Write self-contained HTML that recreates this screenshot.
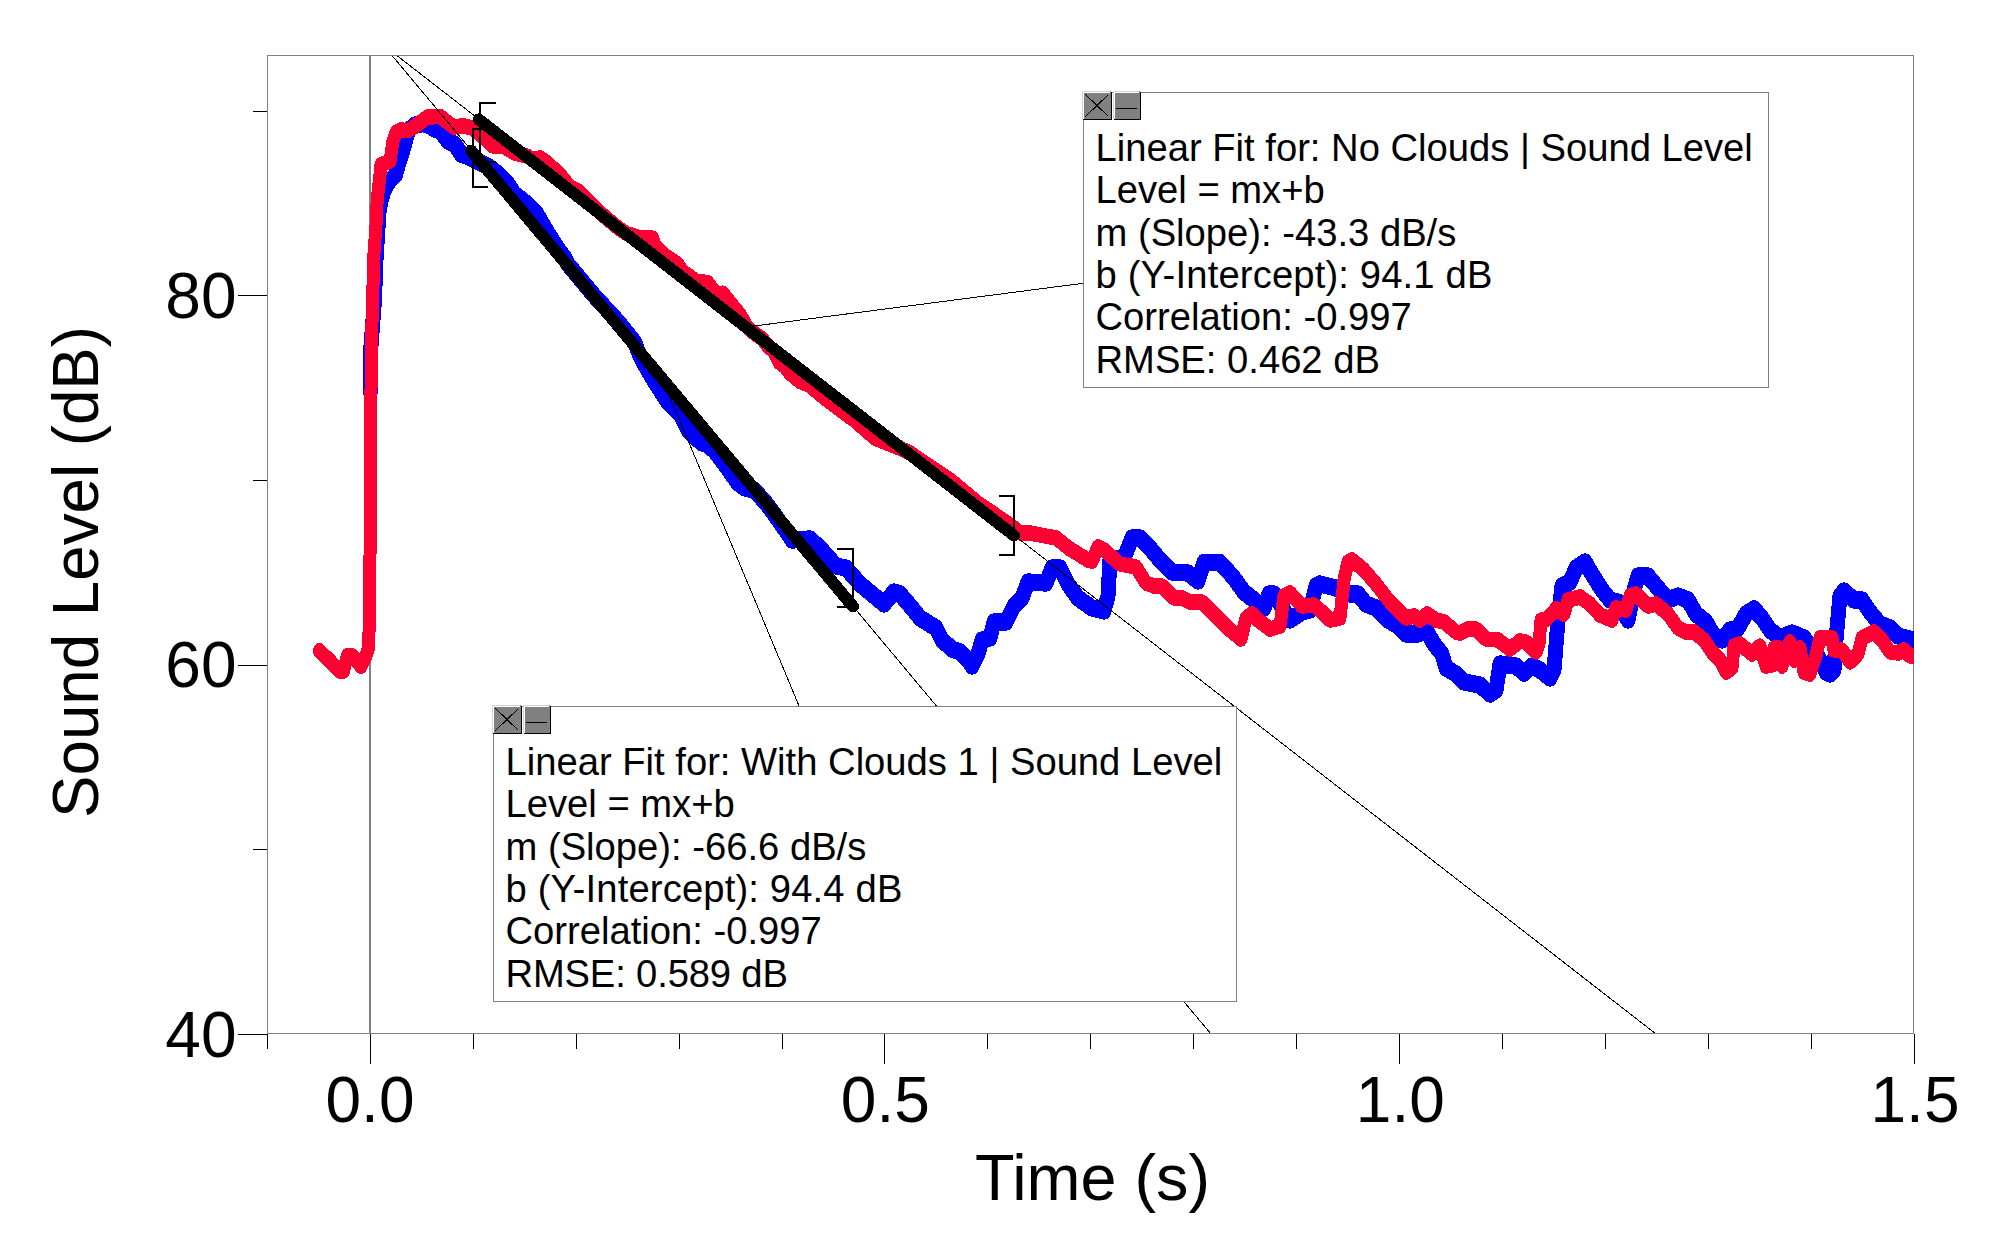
<!DOCTYPE html>
<html lang="en"><head><meta charset="utf-8"><title>Sound Level vs Time</title>
<style>html,body{margin:0;padding:0;background:#fff}body{width:2000px;height:1249px;overflow:hidden}</style></head>
<body>
<svg width="2000" height="1249" viewBox="0 0 2000 1249" style="display:block">
<rect width="2000" height="1249" fill="#fff"/>
<defs><clipPath id="plot"><rect x="268" y="56" width="1646" height="977"/></clipPath></defs>
<g shape-rendering="crispEdges">
<rect x="267.5" y="55.5" width="1646" height="978" fill="none" stroke="#808080" stroke-width="1"/>
<rect x="369" y="56" width="2" height="977" fill="#808080"/>
<g clip-path="url(#plot)" fill="none" stroke-linejoin="round" stroke-linecap="round">
<polyline transform="scale(1,1.15333)" points="370.5,339.45 370.5,305.20 374.5,260.12 376.0,225.43 379.0,183.82 381.0,174.28 384.0,164.74 389.5,156.94 395.5,151.73 399.0,140.46 403.0,130.06 406.5,118.79 409.0,112.72 415.0,108.38 422.5,107.30 427.5,107.86 433.8,111.63 440.0,113.24 447.5,121.91 455.0,125.20 461.2,133.87 468.8,136.04 476.6,139.60 488.0,144.28 498.0,150.78 508.0,159.45 514.2,168.12 525.5,175.66 536.7,185.46 545.5,198.47 558.0,215.81 565.5,224.48 567.7,228.90 596.2,258.38 618.4,279.19 634.5,296.53 640.4,309.54 647.7,320.81 654.3,330.35 666.3,346.82 680.1,358.96 688.6,373.70 701.1,383.67 707.5,385.40 714.6,391.04 725.3,403.18 737.5,418.35 744.9,423.12 754.0,424.86 765.6,435.69 774.8,446.53 787.4,462.14 792.0,468.21 810.0,467.34 820.0,475.14 836.0,490.75 846.0,492.49 860.0,506.36 872.0,515.03 884.0,523.70 894.0,513.29 900.0,515.03 912.0,527.17 920.0,535.84 936.0,544.51 942.0,554.91 952.0,562.72 960.0,565.32 968.0,572.25 972.0,577.46 978.0,567.05 982.0,554.91 990.0,553.18 994.0,539.31 1006.0,539.31 1014.0,525.43 1022.0,518.50 1028.0,504.62 1046.0,505.49 1052.0,492.49 1060.0,492.49 1068.0,506.36 1078.0,518.50 1092.0,527.17 1104.0,529.77 1108.0,516.76 1110.0,485.55 1124.0,483.82 1132.0,466.47 1140.0,466.47 1150.0,475.14 1160.0,485.55 1172.0,495.95 1188.0,496.82 1198.0,503.76 1204.0,487.72 1220.0,487.72 1234.0,501.16 1244.0,513.29 1254.0,520.23 1264.0,527.17 1269.0,515.03 1274.0,515.03 1290.0,537.57 1302.0,530.64 1310.0,528.90 1316.0,508.09 1320.0,506.36 1336.0,509.83 1350.0,515.03 1358.0,515.03 1366.0,523.70 1376.0,527.17 1388.0,537.57 1398.0,542.77 1406.0,549.71 1418.0,549.71 1426.0,546.24 1434.0,558.38 1442.0,567.05 1446.0,579.19 1456.0,584.39 1464.0,591.33 1480.0,593.93 1490.0,601.73 1496.0,598.27 1500.0,575.72 1508.0,576.59 1516.0,577.46 1524.0,583.53 1532.0,577.46 1540.0,580.92 1550.0,587.86 1554.0,580.92 1558.0,537.57 1562.0,508.09 1570.0,504.62 1576.0,492.49 1585.0,487.28 1592.0,497.69 1602.0,511.56 1610.0,520.23 1618.0,521.97 1628.0,537.57 1634.0,511.56 1638.0,499.42 1648.0,499.42 1658.0,509.83 1668.0,520.23 1678.0,516.76 1688.0,520.23 1696.0,532.37 1706.0,539.31 1714.0,551.45 1722.0,554.91 1730.0,546.24 1738.0,544.51 1746.0,532.37 1754.0,528.03 1762.0,535.84 1770.0,546.24 1780.0,553.18 1792.0,548.84 1804.0,553.18 1812.0,561.85 1818.0,568.79 1826.0,582.66 1830.0,584.39 1834.0,580.92 1836.0,554.91 1840.0,516.76 1844.0,512.43 1854.0,520.23 1862.0,520.23 1870.0,530.64 1880.0,541.04 1890.0,544.51 1898.0,551.45 1906.0,553.18 1920.0,556.65" stroke="#0000ff" stroke-width="15"/>
<polyline transform="scale(1,1.19231)" points="319.4,545.75 329.0,553.55 339.5,562.77 343.5,562.77 347.5,550.03 352.5,550.03 361.0,558.83 365.5,551.03 368.4,543.48 368.8,536.77 369.5,515.81 370.5,416.84 371.2,295.23 373.8,214.71 376.0,188.71 377.2,167.74 380.0,146.77 381.0,138.39 390.0,135.03 393.0,118.26 396.0,111.13 401.0,109.03 407.5,109.66 415.0,106.10 427.5,98.13 440.0,97.71 453.8,106.52 463.8,105.47 472.5,107.69 483.0,114.95 492.5,122.28 503.8,122.70 513.8,128.07 527.5,131.09 532.5,133.52 540.0,132.47 545.0,135.12 560.0,146.10 570.0,157.09 577.5,159.73 591.2,171.26 596.4,175.46 604.4,181.50 618.8,191.56 626.8,196.01 639.6,199.36 652.4,199.78 655.6,206.74 665.2,214.37 678.0,221.75 682.8,227.79 697.2,236.26 707.6,236.94 716.4,246.33 722.8,245.91 732.4,255.97 740.4,264.03 746.8,273.84 756.0,280.72 762.0,283.74 768.0,290.45 774.0,294.64 778.8,303.61 785.2,307.64 790.0,313.01 799.6,319.72 809.2,323.07 815.6,327.60 825.0,334.06 855.0,352.85 875.0,367.61 900.0,375.99 910.0,379.85 930.0,391.43 950.0,402.33 977.5,421.62 990.0,428.83 1012.0,441.41 1020.0,447.03 1030.0,447.03 1056.0,451.23 1070.0,460.45 1088.0,469.68 1092.0,470.52 1098.0,458.77 1104.0,461.29 1120.0,473.03 1136.0,475.55 1146.0,488.97 1154.0,491.48 1162.0,491.48 1174.0,501.55 1182.0,501.55 1190.0,504.90 1202.0,504.90 1214.0,514.97 1230.0,528.39 1241.0,535.94 1246.0,518.32 1252.0,514.97 1258.0,520.00 1270.0,527.55 1280.0,525.03 1284.0,499.87 1290.0,497.35 1302.0,508.26 1314.0,507.42 1322.0,513.29 1330.0,520.00 1340.0,518.32 1344.0,486.45 1348.0,471.35 1352.0,469.68 1364.0,478.06 1376.0,489.81 1390.0,504.90 1406.0,518.32 1414.0,516.65 1420.0,520.00 1427.0,514.97 1436.0,520.00 1444.0,521.68 1456.0,530.06 1460.0,530.90 1468.0,527.55 1476.0,527.55 1486.0,535.94 1498.0,536.77 1510.0,544.32 1520.0,537.61 1526.0,538.45 1536.0,546.84 1539.0,540.13 1541.0,520.00 1546.0,520.00 1556.0,510.77 1564.0,514.97 1568.0,503.23 1580.0,500.71 1590.0,506.58 1600.0,515.81 1612.0,520.00 1616.0,509.94 1626.0,511.61 1630.0,499.87 1636.0,498.19 1648.0,508.26 1656.0,506.58 1668.0,514.97 1678.0,526.71 1686.0,530.06 1694.0,530.06 1704.0,536.77 1712.0,546.84 1720.0,553.55 1726.0,563.61 1732.0,560.26 1734.0,541.81 1740.0,540.13 1752.0,548.52 1760.0,541.81 1766.0,558.58 1772.0,557.74 1774.0,543.48 1778.0,543.48 1782.0,558.58 1790.0,538.45 1794.0,553.55 1800.0,543.48 1804.0,563.61 1810.0,565.29 1816.0,550.19 1820.0,535.10 1832.0,535.10 1834.0,545.16 1842.0,545.16 1850.0,555.23 1858.0,548.52 1862.0,535.10 1874.0,530.06 1882.0,536.77 1890.0,546.84 1898.0,547.68 1904.0,545.16 1910.0,550.19 1920.0,550.19" stroke="#ff0033" stroke-width="13"/>
<line x1="396.2" y1="55" x2="1656" y2="1034" stroke="#000" stroke-width="1"/>
<line x1="391.6" y1="55" x2="1211" y2="1034" stroke="#000" stroke-width="1"/>
<line x1="746.5" y1="327" x2="1083" y2="283.3" stroke="#000" stroke-width="1"/>
<line x1="662" y1="378" x2="830" y2="780" stroke="#000" stroke-width="1"/>
<path d="M495,103 H480 V162 H495" stroke="#000" stroke-width="2"/>
<path d="M487,129 H473 V187 H487" stroke="#000" stroke-width="2"/>
<path d="M1000,496 H1014 V555 H1000" stroke="#000" stroke-width="2"/>
<path d="M838,549 H853 V607 H838" stroke="#000" stroke-width="2"/>
<line x1="478.75" y1="119.5" x2="1014" y2="535.5" stroke="#000" stroke-width="12"/>
<line x1="471.25" y1="150.6" x2="853" y2="606.5" stroke="#000" stroke-width="12"/>
</g>
<rect x="267" y="1034" width="1" height="15" fill="#000"/>
<rect x="370" y="1034" width="1" height="30" fill="#000"/>
<rect x="473" y="1034" width="1" height="15" fill="#000"/>
<rect x="576" y="1034" width="1" height="15" fill="#000"/>
<rect x="679" y="1034" width="1" height="15" fill="#000"/>
<rect x="782" y="1034" width="1" height="15" fill="#000"/>
<rect x="884" y="1034" width="1" height="30" fill="#000"/>
<rect x="987" y="1034" width="1" height="15" fill="#000"/>
<rect x="1090" y="1034" width="1" height="15" fill="#000"/>
<rect x="1193" y="1034" width="1" height="15" fill="#000"/>
<rect x="1296" y="1034" width="1" height="15" fill="#000"/>
<rect x="1399" y="1034" width="1" height="30" fill="#000"/>
<rect x="1502" y="1034" width="1" height="15" fill="#000"/>
<rect x="1605" y="1034" width="1" height="15" fill="#000"/>
<rect x="1708" y="1034" width="1" height="15" fill="#000"/>
<rect x="1811" y="1034" width="1" height="15" fill="#000"/>
<rect x="1914" y="1034" width="1" height="30" fill="#000"/>
<rect x="253" y="111" width="14" height="1" fill="#000"/>
<rect x="238" y="295" width="29" height="1" fill="#000"/>
<rect x="253" y="480" width="14" height="1" fill="#000"/>
<rect x="238" y="665" width="29" height="1" fill="#000"/>
<rect x="253" y="849" width="14" height="1" fill="#000"/>
<rect x="238" y="1034" width="29" height="1" fill="#000"/>
</g>
<g font-family="'Liberation Sans', Arial, sans-serif" font-size="64" fill="#000">
<text x="236.5" y="318.4" text-anchor="end">80</text>
<text x="236.5" y="687.4" text-anchor="end">60</text>
<text x="236.5" y="1057.2" text-anchor="end">40</text>
<text x="370" y="1122" text-anchor="middle">0.0</text>
<text x="885.3" y="1122" text-anchor="middle">0.5</text>
<text x="1400.3" y="1122" text-anchor="middle">1.0</text>
<text x="1915" y="1122" text-anchor="middle">1.5</text>
<text x="1092.5" y="1200" text-anchor="middle" textLength="235" lengthAdjust="spacingAndGlyphs">Time (s)</text>
<text transform="translate(97.5,572) rotate(-90)" text-anchor="middle" textLength="492" lengthAdjust="spacingAndGlyphs">Sound Level (dB)</text>
</g>
<rect x="1083.5" y="92.5" width="685" height="295" fill="#fff" stroke="#808080" stroke-width="1"/>
<g shape-rendering="crispEdges">
<rect x="1082" y="91" width="29" height="28" fill="#d4d4d4"/>
<rect x="1083" y="92" width="28" height="27" fill="#fff"/>
<rect x="1084" y="93" width="27" height="26" fill="#808080"/>
<rect x="1111" y="92" width="1" height="28" fill="#000"/>
<rect x="1083" y="119" width="29" height="1" fill="#000"/>
<rect x="1110" y="91" width="1" height="2" fill="#808080"/>
<path d="M1085.5,94.5 L1108.5,116.5 M1108.5,94.5 L1085.5,116.5" stroke="#000" stroke-width="1" fill="none"/>
<rect x="1113" y="91" width="27" height="28" fill="#d4d4d4"/>
<rect x="1114" y="92" width="26" height="27" fill="#fff"/>
<rect x="1115" y="93" width="25" height="26" fill="#808080"/>
<rect x="1140" y="92" width="1" height="28" fill="#000"/>
<rect x="1114" y="119" width="27" height="1" fill="#000"/>
<rect x="1139" y="91" width="1" height="2" fill="#808080"/>
<rect x="1116" y="108" width="21" height="1" fill="#000"/>
</g>
<text x="1095.5" y="161.0" font-family="'Liberation Sans', Arial, sans-serif" font-size="38.2" fill="#000">Linear Fit for: No Clouds | Sound Level</text>
<text x="1095.5" y="203.4" font-family="'Liberation Sans', Arial, sans-serif" font-size="38.2" fill="#000">Level = mx+b</text>
<text x="1095.5" y="245.7" font-family="'Liberation Sans', Arial, sans-serif" font-size="38.2" fill="#000">m (Slope): -43.3 dB/s</text>
<text x="1095.5" y="288.1" font-family="'Liberation Sans', Arial, sans-serif" font-size="38.2" textLength="396.9" lengthAdjust="spacing" fill="#000">b (Y-Intercept): 94.1 dB</text>
<text x="1095.5" y="330.4" font-family="'Liberation Sans', Arial, sans-serif" font-size="38.2" fill="#000">Correlation: -0.997</text>
<text x="1095.5" y="372.8" font-family="'Liberation Sans', Arial, sans-serif" font-size="38.2" fill="#000">RMSE: 0.462 dB</text>
<rect x="493.5" y="706.5" width="743" height="295" fill="#fff" stroke="#808080" stroke-width="1"/>
<g shape-rendering="crispEdges">
<rect x="492" y="705" width="29" height="28" fill="#d4d4d4"/>
<rect x="493" y="706" width="28" height="27" fill="#fff"/>
<rect x="494" y="707" width="27" height="26" fill="#808080"/>
<rect x="521" y="706" width="1" height="28" fill="#000"/>
<rect x="493" y="733" width="29" height="1" fill="#000"/>
<rect x="520" y="705" width="1" height="2" fill="#808080"/>
<path d="M495.5,708.5 L518.5,730.5 M518.5,708.5 L495.5,730.5" stroke="#000" stroke-width="1" fill="none"/>
<rect x="523" y="705" width="27" height="28" fill="#d4d4d4"/>
<rect x="524" y="706" width="26" height="27" fill="#fff"/>
<rect x="525" y="707" width="25" height="26" fill="#808080"/>
<rect x="550" y="706" width="1" height="28" fill="#000"/>
<rect x="524" y="733" width="27" height="1" fill="#000"/>
<rect x="549" y="705" width="1" height="2" fill="#808080"/>
<rect x="526" y="722" width="21" height="1" fill="#000"/>
</g>
<text x="505.5" y="775.0" font-family="'Liberation Sans', Arial, sans-serif" font-size="38.2" fill="#000">Linear Fit for: With Clouds 1 | Sound Level</text>
<text x="505.5" y="817.4" font-family="'Liberation Sans', Arial, sans-serif" font-size="38.2" fill="#000">Level = mx+b</text>
<text x="505.5" y="859.7" font-family="'Liberation Sans', Arial, sans-serif" font-size="38.2" fill="#000">m (Slope): -66.6 dB/s</text>
<text x="505.5" y="902.1" font-family="'Liberation Sans', Arial, sans-serif" font-size="38.2" textLength="396.9" lengthAdjust="spacing" fill="#000">b (Y-Intercept): 94.4 dB</text>
<text x="505.5" y="944.4" font-family="'Liberation Sans', Arial, sans-serif" font-size="38.2" fill="#000">Correlation: -0.997</text>
<text x="505.5" y="986.8" font-family="'Liberation Sans', Arial, sans-serif" font-size="38.2" textLength="282.4" lengthAdjust="spacing" fill="#000">RMSE: 0.589 dB</text>
</svg>
</body></html>
